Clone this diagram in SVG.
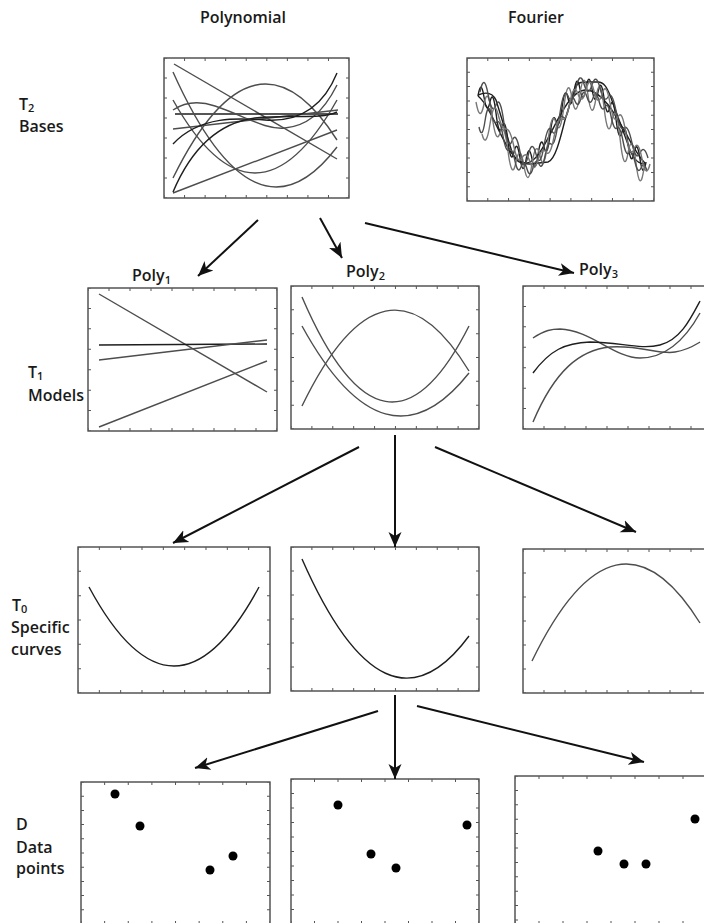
<svg xmlns="http://www.w3.org/2000/svg" width="704" height="923" viewBox="0 0 704 923">
<style>
.bg{fill:#fff}
.box{fill:#fff;stroke:#3a3a3a;stroke-width:1.3}
.tk{fill:none;stroke:#555;stroke-width:3}
.c{fill:none;stroke:#4d4d4d;stroke-width:1.4}
.k{fill:none;stroke:#1e1e1e;stroke-width:1.4}
.g{fill:none;stroke:#777;stroke-width:1.4}
.dot{fill:#000}
.lbl{font-family:"Open Sans","Noto Sans","Liberation Sans",sans-serif;font-size:16px;font-weight:600;fill:#1a1a1a}
.sub{font-size:11px}
.arr{fill:none;stroke:#111;stroke-width:2;marker-end:url(#ah)}
</style>
<defs>
<marker id="ah" markerUnits="userSpaceOnUse" markerWidth="17" markerHeight="15" refX="15" refY="7.5" orient="auto">
<path d="M0,1 L15,7.5 L0,14 L4,7.5 z" fill="#111"/>
</marker>
</defs>
<rect class="bg" x="0" y="0" width="704" height="923"/>

<g id="col-labels">
<text class="lbl" x="243" y="23" text-anchor="middle">Polynomial</text>
<text class="lbl" x="536" y="23" text-anchor="middle">Fourier</text>
</g>

<g id="row-T2">
<text class="lbl" x="19" y="110">T<tspan class="sub" dy="2">2</tspan></text>
<text class="lbl" x="19" y="132">Bases</text>
</g>
<g id="row-T1">
<text class="lbl" x="28" y="378">T<tspan class="sub" dy="2">1</tspan></text>
<text class="lbl" x="28" y="401">Models</text>
</g>
<g id="row-T0">
<text class="lbl" x="12" y="611">T<tspan class="sub" dy="2">0</tspan></text>
<text class="lbl" x="11" y="633">Specific</text>
<text class="lbl" x="11" y="655">curves</text>
</g>
<g id="row-D">
<text class="lbl" x="16" y="830">D</text>
<text class="lbl" x="16" y="853">Data</text>
<text class="lbl" x="16" y="874">points</text>
</g>

<g id="poly-bases">
<rect class="box" x="164" y="58" width="185" height="140"/>
<path class="tk" d="M164,59.5 H349 M164,196.5 H349" stroke-dasharray="1 19.56" stroke-dashoffset="0.5"/>
<path class="tk" d="M165.5,58 V198 M347.5,58 V198" stroke-dasharray="1 19" stroke-dashoffset="0.5"/>
<path class="c" d="M174,64 L337,159"/>
<path class="c" d="M173,193 L337,130"/>
<path class="k" d="M175,114 L338,114"/>
<path class="c" d="M173,129 L338,110"/>
<path class="c" d="M173,178 Q255,11.5 337,140"/>
<path class="c" d="M173,72 Q255,254.8 337,147"/>
<path class="c" d="M173,100 Q255,246 337,100"/>
<path class="k" d="M173,144 C200,115 240,118 265,120 C295,122 322,110 337,73"/>
<path class="c" d="M173,110 C185,102 200,101 215,106 C245,116 265,130 285,128 C305,126 322,115 337,85"/>
<path class="k" d="M173,192 C195,140 225,122 255,118 C290,114 320,120 337,112"/>
</g>

<g id="fourier-bases">
<rect class="box" x="467" y="58" width="187" height="143"/>
<path class="tk" d="M467,59.5 H654 M467,199.5 H654" stroke-dasharray="1 19.78" stroke-dashoffset="0.5"/>
<path class="tk" d="M468.5,58 V201 M652.5,58 V201" stroke-dasharray="1 13.3" stroke-dashoffset="0.5"/>
<path class="k" d="M478,96 C495,110 505,160 525,163 C545,166 560,92 585,90 C610,88 630,150 645,163"/>
<path class="k" d="M478,95 C485,92 492,92 496,100 L512,152 C516,162 520,164 530,164 L548,162 C555,160 560,140 565,120 L574,90 C577,82 580,82 590,82 L598,82 C604,82 607,88 610,95 L630,150 C635,162 640,164 645,164"/>
<path class="k" d="M478,96 Q481,78 484,97 T490,102 T496,113 T502,127 T508,141 T514,152 T520,158 T526,160 T532,159 T538,155 T544,147 T550,135 T556,121 T562,108 T568,98 T574,92 T580,89 T586,88 T592,89 T598,92 T604,98 T610,107 T616,119 T622,132 T628,144 T634,153 T640,159 T646,162"/>
<path class="g" transform="translate(-2,6)" d="M478,96 Q482,118 486,98 T494,109 T502,127 T510,145 T518,156 T526,160 T534,158 T542,150 T550,135 T558,117 T566,100 T574,92 T582,88 T590,89 T598,92 T606,101 T614,115 T622,132 T630,147 T638,157 T646,162"/>
<path class="c" transform="translate(2,-4)" d="M478,96 Q482,76 486,98 T494,109 T502,127 T510,145 T518,156 T526,160 T534,158 T542,150 T550,135 T558,117 T566,100 T574,92 T582,88 T590,89 T598,92 T606,101 T614,115 T622,132 T630,147 T638,157 T646,162"/>
<path class="c" transform="translate(1,9)" d="M478,118 Q481,132 484,112 T490,104 T496,113 T502,127 T508,141 T514,152 T520,158 T526,160 T532,159 T538,155 T544,147 T550,135 T556,121 T562,108 T568,98 T574,92 T580,89 T586,88 T592,89 T598,92 T604,98 T610,107 T616,119 T622,132 T628,144 T634,153 T640,159 T646,162"/>
<path class="g" transform="translate(4,2)" d="M478,132 Q482,148 486,122 T494,112 T502,127 T510,145 T518,156 T526,160 T534,158 T542,150 T550,135 T558,117 T566,100 T574,92 T582,88 T590,89 T598,92 T606,101 T614,115 T622,132 T630,147 T638,157 T646,162"/>
</g>

<g id="poly1">
<text class="lbl" x="132" y="281">Poly<tspan class="sub" dy="3">1</tspan></text>
<rect class="box" x="88" y="288" width="189" height="143"/>
<path class="tk" d="M88,289.5 H277 M88,429.5 H277" stroke-dasharray="1 20" stroke-dashoffset="0.5"/>
<path class="tk" d="M89.5,288 V431 M275.5,288 V431" stroke-dasharray="1 19.43" stroke-dashoffset="0.5"/>
<path class="c" d="M99,294 L267,392"/>
<path class="k" d="M99,345 L267,344"/>
<path class="c" d="M99,360 L267,340"/>
<path class="c" d="M99,427 L267,361"/>
</g>

<g id="poly2">
<text class="lbl" x="346" y="277">Poly<tspan class="sub" dy="3">2</tspan></text>
<rect class="box" x="291" y="286" width="188" height="143"/>
<path class="tk" d="M291,287.5 H479 M291,427.5 H479" stroke-dasharray="1 19.89" stroke-dashoffset="0.5"/>
<path class="tk" d="M292.5,286 V429 M477.5,286 V429" stroke-dasharray="1 22.83" stroke-dashoffset="0.5"/>
<path class="c" d="M302,406 Q385.5,233.7 469,371"/>
<path class="c" d="M302,297 Q385.5,491.3 469,326"/>
<path class="c" d="M302,326 Q385.5,478.3 469,373"/>
</g>

<g id="poly3">
<text class="lbl" x="579" y="275">Poly<tspan class="sub" dy="3">3</tspan></text>
<rect class="box" x="523" y="286" width="189" height="143"/>
<path class="tk" d="M523,287.5 H712 M523,427.5 H712" stroke-dasharray="1 20" stroke-dashoffset="0.5"/>
<path class="tk" d="M524.5,286 V429" stroke-dasharray="1 19.43" stroke-dashoffset="0.5"/>
<path class="c" d="M533,338 C545,330 552,329 560,329 C590,330 615,358 640,358 C665,358 685,340 700,313"/>
<path class="k" d="M533,373 C550,350 565,343 590,342 C620,342 640,350 660,345 C680,340 690,320 700,301"/>
<path class="c" d="M533,422 C555,370 580,350 610,347 C640,345 660,355 675,352 C688,350 695,345 700,342"/>
</g>

<g id="curve1">
<rect class="box" x="78" y="547" width="192" height="146"/>
<path class="tk" d="M78,548.5 H270 M78,691.5 H270" stroke-dasharray="1 20.33" stroke-dashoffset="0.5"/>
<path class="tk" d="M79.5,547 V693 M268.5,547 V693" stroke-dasharray="1 23.33" stroke-dashoffset="0.5"/>
<path class="k" d="M89,587 Q174,745 259,587"/>
</g>

<g id="curve2">
<rect class="box" x="291" y="547" width="188" height="144"/>
<path class="tk" d="M291,548.5 H479 M291,689.5 H479" stroke-dasharray="1 19.89" stroke-dashoffset="0.5"/>
<path class="tk" d="M292.5,547 V691 M477.5,547 V691" stroke-dasharray="1 23" stroke-dashoffset="0.5"/>
<path class="k" d="M302,559 Q385.5,749 469,636"/>
</g>

<g id="curve3">
<rect class="box" x="523" y="549" width="189" height="144"/>
<path class="tk" d="M523,550.5 H712 M523,691.5 H712" stroke-dasharray="1 20" stroke-dashoffset="0.5"/>
<path class="tk" d="M524.5,549 V693" stroke-dasharray="1 23" stroke-dashoffset="0.5"/>
<path class="c" d="M532,661 Q616,488.3 700,623"/>
</g>

<g id="data1">
<rect class="box" x="81" y="782" width="189" height="142"/>
<path class="tk" d="M81,783.5 H270 M81,922.5 H270" stroke-dasharray="1 22.63" stroke-dashoffset="0.5"/>
<path class="tk" d="M82.5,782 V924 M268.5,782 V924" stroke-dasharray="1 13.2" stroke-dashoffset="0.5"/>
<circle class="dot" cx="115" cy="794" r="4.5"/>
<circle class="dot" cx="140" cy="826" r="4.5"/>
<circle class="dot" cx="210" cy="870" r="4.5"/>
<circle class="dot" cx="233" cy="856" r="4.5"/>
</g>

<g id="data2">
<rect class="box" x="291" y="779" width="188" height="145"/>
<path class="tk" d="M291,780.5 H479 M291,922.5 H479" stroke-dasharray="1 22.5" stroke-dashoffset="0.5"/>
<path class="tk" d="M292.5,779 V924 M477.5,779 V924" stroke-dasharray="1 13.5" stroke-dashoffset="0.5"/>
<circle class="dot" cx="338" cy="805" r="4.5"/>
<circle class="dot" cx="371" cy="854" r="4.5"/>
<circle class="dot" cx="396" cy="868" r="4.5"/>
<circle class="dot" cx="467" cy="825" r="4.5"/>
</g>

<g id="data3">
<rect class="box" x="515" y="776" width="192" height="148"/>
<path class="tk" d="M515,777.5 H707 M515,922.5 H707" stroke-dasharray="1 23" stroke-dashoffset="0.5"/>
<path class="tk" d="M516.5,776 V924" stroke-dasharray="1 13.4" stroke-dashoffset="0.5"/>
<circle class="dot" cx="598" cy="851" r="4.5"/>
<circle class="dot" cx="624" cy="864" r="4.5"/>
<circle class="dot" cx="646" cy="864" r="4.5"/>
<circle class="dot" cx="695" cy="819" r="4.5"/>
</g>

<g id="connectors">
<line class="arr" x1="258" y1="220" x2="198" y2="276"/>
<line class="arr" x1="320" y1="218" x2="342" y2="258"/>
<line class="arr" x1="365" y1="223" x2="574" y2="273"/>
<line class="arr" x1="359" y1="447" x2="173" y2="543"/>
<line class="arr" x1="395" y1="435" x2="395" y2="547"/>
<line class="arr" x1="435" y1="447" x2="636" y2="532"/>
<line class="arr" x1="378" y1="711" x2="195" y2="768"/>
<line class="arr" x1="395" y1="695" x2="395" y2="779"/>
<line class="arr" x1="417" y1="706" x2="644" y2="762"/>
</g>
</svg>
